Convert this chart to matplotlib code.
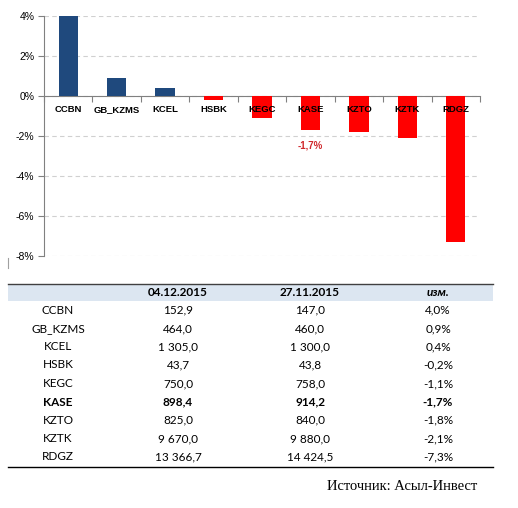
import matplotlib
matplotlib.use("Agg")
import matplotlib.pyplot as plt
from matplotlib.patches import Rectangle
from matplotlib.lines import Line2D

tickers = ["CCBN", "GB_KZMS", "KCEL", "HSBK", "KEGC", "KASE", "KZTO", "KZTK", "RDGZ"]
change = [4.0, 0.9, 0.4, -0.2, -1.1, -1.7, -1.8, -2.1, -7.3]
price_now = ["152,9", "464,0", "1 305,0", "43,7", "750,0", "898,4", "825,0", "9 670,0", "13 366,7"]
price_prev = ["147,0", "460,0", "1 300,0", "43,8", "758,0", "914,2", "840,0", "9 880,0", "14 424,5"]
change_txt = ["4,0%", "0,9%", "0,4%", "-0,2%", "-1,1%", "-1,7%", "-1,8%", "-2,1%", "-7,3%"]
headers = ["", "04.12.2015", "27.11.2015", "изм."]
yticks = [4, 2, 0, -2, -4, -6, -8]
highlight = "KASE"
source = "Источник: Асыл-Инвест"

W, H = 518, 508
fig = plt.figure(figsize=(W / 100, H / 100), dpi=100)

def fx(px):
    return px / W

def fy(py):
    return 1 - py / H

# ---- chart ----
ax = fig.add_axes([fx(44), fy(256), fx(480) - fx(44), fy(16) - fy(256)])
x = list(range(len(tickers)))
colors = ["#1F497D" if v >= 0 else "#FF0000" for v in change]
ax.bar(x, change, width=0.4, color=colors, zorder=3)
ax.set_xlim(-0.5, len(tickers) - 0.5)
ax.set_ylim(-8, 4)
ax.set_yticks(yticks)
ax.set_yticklabels([f"{t}%" for t in yticks], fontsize=7.5, family="Liberation Sans")
ax.yaxis.grid(True, linestyle=(0, (4, 3)), color="#D0D0D0", linewidth=0.8, zorder=0)
ax.set_xticks([i + 0.5 for i in range(-1, len(tickers))])
ax.set_xticklabels([])
for s in ["top", "right"]:
    ax.spines[s].set_visible(False)
ax.spines["left"].set_color("#808080")
ax.spines["bottom"].set_position(("data", 0))
ax.spines["bottom"].set_color("#808080")
ax.tick_params(axis="x", direction="out", length=4, color="#808080")
ax.tick_params(axis="y", direction="out", length=4, color="#808080", pad=3)
for i, t in enumerate(tickers):
    ax.text(i, -0.7, t, ha="center", va="center", fontsize=6.8, fontweight="bold",
            family="Liberation Sans", zorder=4)
hi = tickers.index(highlight)
ax.text(hi, -2.45, change_txt[hi], ha="center", va="center", fontsize=7,
        fontweight="bold", color="#D0282C", family="Liberation Sans", zorder=4)

fig.add_artist(Line2D([fx(8), fx(8)], [fy(258), fy(268)], color="#A0A0A0", linewidth=0.8))

# ---- table ----
left, right = 8, 493
fig.add_artist(Rectangle((fx(left), fy(301)), fx(right) - fx(left), fy(284) - fy(301),
                         facecolor="#DCE6F1", edgecolor="none"))
fig.add_artist(Line2D([fx(left), fx(right)], [fy(284), fy(284)], color="#404040", linewidth=1.0))
fig.add_artist(Line2D([fx(left), fx(right)], [fy(467), fy(467)], color="#000000", linewidth=1.0))

colx = [58, 178, 310, 438]
fnt = "Lato"
for j, h in enumerate(headers):
    fig.text(fx(colx[j]), fy(292.5), h, ha="center", va="center", fontsize=8.5,
             fontweight="bold", fontstyle="italic" if j == 3 else "normal", family=fnt)
row_y = [310, 328.5, 347, 365, 383.5, 402, 420, 438.5, 456.5]
for i, t in enumerate(tickers):
    bold = "bold" if t == highlight else "normal"
    vals = [t, price_now[i], price_prev[i], change_txt[i]]
    for j, v in enumerate(vals):
        fig.text(fx(colx[j]), fy(row_y[i]), v, ha="center", va="center", fontsize=8.5,
                 fontweight=bold, family=fnt)

fig.text(fx(477), fy(486), source, ha="right", va="center", fontsize=10.5,
         family="Liberation Serif")

fig.savefig("out.png", dpi=100)
